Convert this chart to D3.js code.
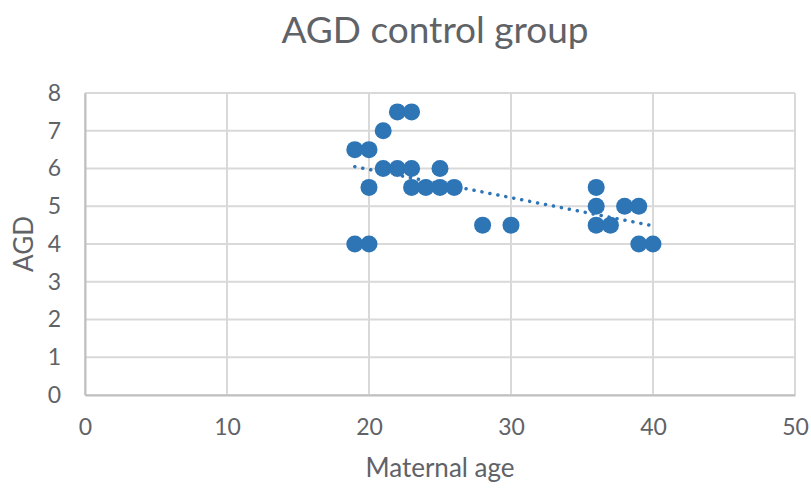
<!DOCTYPE html>
<html>
<head>
<meta charset="utf-8">
<script src="https://cdn.jsdelivr.net/npm/d3@7"></script>
<style>
  body { margin: 0; background: #fff; }
  svg { font-family: Lato, "Open Sans", sans-serif; }
</style>
</head>
<body>
<svg id="chart" width="811" height="489"></svg>
<script>
// maternal age (x) and AGD (y) for each point
const ages = [19, 20, 19, 20, 20, 21, 22, 23, 21, 22, 23, 23, 24, 25, 26, 25, 28, 30, 36, 36, 36, 37, 38, 39, 39, 40];
const agd = [6.5, 6.5, 4, 4, 5.5, 7, 7.5, 7.5, 6, 6, 6, 5.5, 5.5, 5.5, 5.5, 6, 4.5, 4.5, 5.5, 5, 4.5, 4.5, 5, 5, 4, 4];
const xTicks = [0, 10, 20, 30, 40, 50];
const yTicks = [0, 1, 2, 3, 4, 5, 6, 7, 8];

const width = 811, height = 489;
const margin = { top: 93, right: 16, bottom: 94, left: 85 };
const chartWidth = width - margin.left - margin.right;
const chartHeight = height - margin.top - margin.bottom;

const data = ages.map((a, i) => ({ x: a, y: agd[i] }));

const xScale = d3.scaleLinear().domain([0, 50]).range([0, chartWidth]);
const yScale = d3.scaleLinear().domain([0, 8]).range([chartHeight, 0]);

const svg = d3.select('#chart');
const textColor = '#5f6368';
const gridColor = '#d9d9d9';

const chart = svg.append('g')
  .attr('transform', `translate(${margin.left}, ${margin.top})`);

// gridlines
chart.append('g')
  .selectAll('line')
  .data(yTicks)
  .enter()
  .append('line')
  .attr('x1', 0).attr('x2', chartWidth)
  .attr('y1', d => yScale(d)).attr('y2', d => yScale(d))
  .attr('stroke', gridColor).attr('stroke-width', 2);

chart.append('g')
  .selectAll('line')
  .data(xTicks)
  .enter()
  .append('line')
  .attr('y1', 0).attr('y2', chartHeight)
  .attr('x1', d => xScale(d)).attr('x2', d => xScale(d))
  .attr('stroke', gridColor).attr('stroke-width', 2);

// axes (labels only, lines come from the grid)
const xAxis = chart.append('g')
  .attr('transform', `translate(0, ${chartHeight})`)
  .call(d3.axisBottom(xScale).tickValues(xTicks).tickSize(0).tickPadding(24));
const yAxis = chart.append('g')
  .call(d3.axisLeft(yScale).tickValues(yTicks).tickSize(0).tickPadding(24));

[xAxis, yAxis].forEach(ax => {
  ax.select('.domain').attr('stroke', '#bfbfbf').attr('stroke-width', 2);
  ax.selectAll('text')
    .attr('fill', textColor)
    .style('font-size', '23px')
    .style('font-family', 'Lato, "Open Sans", sans-serif');
});

// linear trendline (least squares)
const mx = d3.mean(ages), my = d3.mean(agd);
const slope = d3.sum(data, d => (d.x - mx) * (d.y - my)) / d3.sum(data, d => (d.x - mx) ** 2);
const trendX = d3.extent(ages);
chart.append('line')
  .attr('x1', xScale(trendX[0]))
  .attr('y1', yScale(my + slope * (trendX[0] - mx)))
  .attr('x2', xScale(trendX[1]))
  .attr('y2', yScale(my + slope * (trendX[1] - mx)))
  .attr('stroke', '#2E75B6')
  .attr('stroke-width', 3.5)
  .attr('stroke-linecap', 'round')
  .attr('stroke-dasharray', '0.1 8');

// points
chart.selectAll('circle')
  .data(data)
  .enter()
  .append('circle')
  .attr('cx', d => xScale(d.x))
  .attr('cy', d => yScale(d.y))
  .attr('r', 8.5)
  .style('fill', '#2E75B6');

// title
svg.append('text')
  .attr('x', 435)
  .attr('y', 43)
  .style('text-anchor', 'middle')
  .style('font-size', '37px')
  .attr('fill', textColor)
  .text('AGD control group');

// x-axis label
svg.append('text')
  .attr('x', margin.left + chartWidth / 2)
  .attr('y', 477)
  .style('text-anchor', 'middle')
  .style('font-size', '26px')
  .attr('fill', textColor)
  .text('Maternal age');

// y-axis label
svg.append('text')
  .attr('x', -(margin.top + chartHeight / 2))
  .attr('y', 33)
  .attr('transform', 'rotate(-90)')
  .style('text-anchor', 'middle')
  .style('font-size', '26px')
  .attr('fill', textColor)
  .text('AGD');
</script>
</body>
</html>
